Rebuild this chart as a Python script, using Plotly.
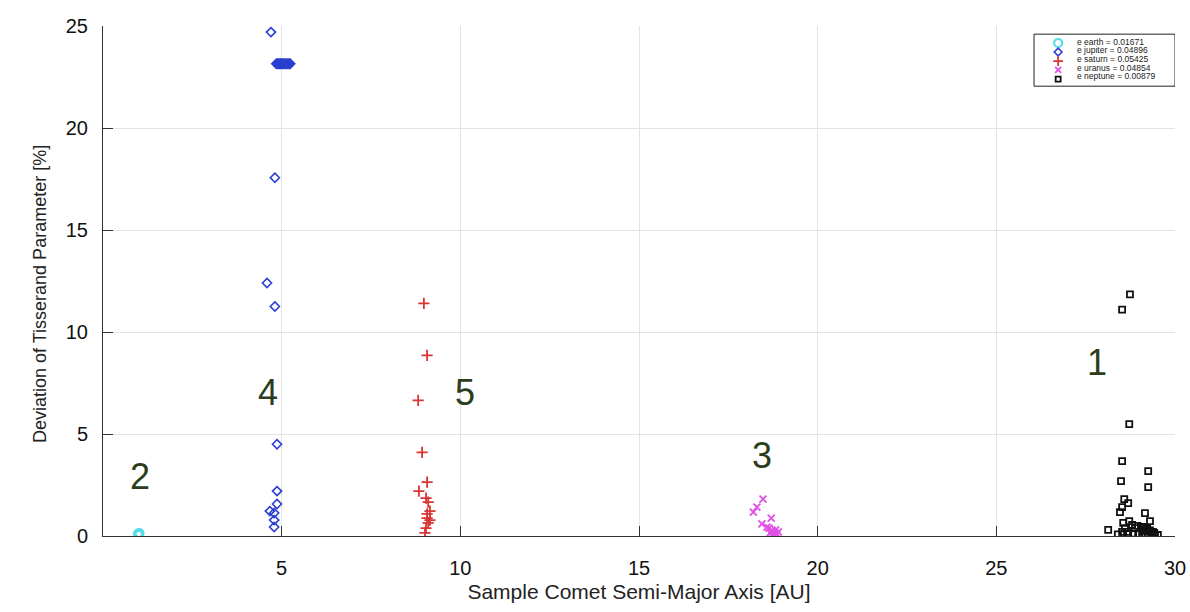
import plotly.graph_objects as go

# ---------------- data ----------------
earth_a = [0.98, 1.00, 1.02, 1.00]
earth_dev = [0.12, 0.08, 0.14, 0.05]

jupiter_a = [4.70, 4.81, 4.59, 4.81, 4.87, 4.87, 4.87, 4.67, 4.79, 4.79, 4.79,
             4.85, 4.88, 4.91, 4.94, 4.97, 5.00, 5.03, 5.06, 5.09, 5.12, 5.15, 5.18, 5.21, 5.24]
jupiter_dev = [24.7, 17.56, 12.4, 11.25, 4.5, 2.2, 1.57, 1.22, 1.13, 0.78, 0.44,
               23.15, 23.15, 23.15, 23.15, 23.15, 23.15, 23.15, 23.15, 23.15, 23.15, 23.15, 23.15, 23.15, 23.15]

saturn_a = [8.98, 9.07, 8.82, 8.93, 9.07, 8.84, 9.04, 9.10, 9.15, 9.07, 9.07, 9.15, 9.10, 9.04, 9.01]
saturn_dev = [11.4, 8.85, 6.65, 4.1, 2.64, 2.2, 1.86, 1.66, 1.22, 1.08, 0.88, 0.78, 0.64, 0.39, 0.15]

uranus_a = [18.47, 18.30, 18.20, 18.70, 18.44, 18.58, 18.64, 18.72, 18.75, 18.67, 18.80, 18.86, 18.75, 18.90, 18.82]
uranus_dev = [1.81, 1.42, 1.17, 0.88, 0.59, 0.44, 0.39, 0.29, 0.20, 0.15, 0.15, 0.10, 0.05, 0.20, 0.30]

neptune_a = [28.74, 28.52, 28.72, 28.52, 29.25, 28.49, 29.25, 28.58, 28.69, 28.52, 28.46, 29.16,
             29.30, 28.72, 28.55, 28.80, 29.10, 28.13, 28.60, 28.52, 28.66, 28.88,
             28.40, 28.55, 28.69, 28.83, 28.97, 29.08, 29.17, 29.25, 29.36, 29.44, 29.52,
             29.10, 29.18, 29.26, 29.34, 29.42, 29.14, 29.22, 29.30, 29.38, 28.95, 29.05]
neptune_dev = [11.84, 11.10, 5.48, 3.67, 3.18, 2.69, 2.40, 1.81, 1.61, 1.42, 1.17, 1.12,
               0.73, 0.73, 0.64, 0.54, 0.44, 0.30, 0.39, 0.20, 0.20, 0.39,
               0.08, 0.08, 0.10, 0.12, 0.10, 0.12, 0.08, 0.10, 0.08, 0.06, 0.05,
               0.25, 0.30, 0.22, 0.18, 0.15, 0.40, 0.35, 0.28, 0.20, 0.50, 0.45]

legend_labels = ["e earth = 0.01671", "e jupiter = 0.04896", "e saturn = 0.05425",
                 "e uranus = 0.04854", "e neptune = 0.00879"]

cluster_labels = ["1", "2", "3", "4", "5"]
cluster_x = [27.82, 1.04, 18.44, 4.62, 10.13]
cluster_y = [8.5, 2.94, 3.96, 7.05, 7.05]

x_ticks = [5, 10, 15, 20, 25, 30]
y_ticks = [0, 5, 10, 15, 20, 25]

# ---------------- styles ----------------
series = [
    (earth_a, earth_dev, "#55dde8", "circle-open", 8, 2.2),
    (jupiter_a, jupiter_dev, "#2b3fcf", "diamond-open", 7, 1.6),
    (saturn_a, saturn_dev, "#d93535", "cross-thin-open", 8, 1.8),
    (uranus_a, uranus_dev, "#e050e6", "x-thin-open", 7, 1.8),
    (neptune_a, neptune_dev, "#111111", "square-open", 6, 1.8),
]

FONT = "Liberation Sans, Arial, sans-serif"

fig = go.Figure()
for (xs, ys, col, sym, sz, lw), name in zip(series, legend_labels):
    fig.add_trace(go.Scatter(
        x=xs, y=ys, mode="markers", name=name, showlegend=False,
        marker=dict(symbol=sym, size=sz, color=col, line=dict(color=col, width=lw)),
        hoverinfo="skip"))

# manual compact legend (markers on an overlay axis 0..1)
leg_mark_x = 0.891
leg_mark_rows = [0.9667, 0.949, 0.931, 0.914, 0.896]
leg_text_x = 0.9067
leg_text_rows = [0.9686, 0.952, 0.9353, 0.9186, 0.902]
for (xs, ys, col, sym, sz, lw), name, my, ty in zip(series, legend_labels, leg_mark_rows, leg_text_rows):
    fig.add_trace(go.Scatter(
        x=[leg_mark_x], y=[my], xaxis="x2", yaxis="y2", mode="markers", showlegend=False,
        marker=dict(symbol=sym, size=sz - 1 if sym != "circle-open" else sz,
                    color=col, line=dict(color=col, width=lw)),
        hoverinfo="skip"))
    fig.add_annotation(x=leg_text_x, y=ty, xref="x2", yref="y2", text=name, showarrow=False,
                       xanchor="left", yanchor="middle",
                       font=dict(family=FONT, size=8.5, color="#222222"))

fig.add_shape(type="rect", xref="x2", yref="y2", x0=0.8685, x1=1.0, y0=0.882, y1=0.984,
              line=dict(color="#222222", width=1), fillcolor="rgba(0,0,0,0)")

for t, cx, cy in zip(cluster_labels, cluster_x, cluster_y):
    fig.add_annotation(x=cx, y=cy, text=t, showarrow=False, xanchor="center", yanchor="middle",
                       font=dict(family=FONT, size=36, color="#2b3d1c"))

# y-axis title
fig.add_annotation(x=-0.0588, y=0.4745, xref="paper", yref="paper",
                   text="Deviation of Tisserand Parameter [%]", showarrow=False, textangle=-90,
                   xanchor="center", yanchor="middle",
                   font=dict(family=FONT, size=18, color="#222222"))

fig.update_layout(
    width=1190, height=612,
    margin=dict(l=103, r=15, t=26, b=76),
    paper_bgcolor="white", plot_bgcolor="white",
    font=dict(family=FONT, color="#111111"),
    xaxis=dict(range=[0, 30], tickvals=x_ticks, ticks="inside", ticklen=10, automargin=False,
               tickcolor="#333333", showline=True, linecolor="#333333", linewidth=1,
               showgrid=True, gridcolor="#e3e3e3", gridwidth=1, zeroline=False,
               tickfont=dict(size=20, family=FONT, color="#111111"), ticklabelstandoff=14,
               title=dict(text="Sample Comet Semi-Major Axis [AU]", standoff=6,
                          font=dict(size=21, family=FONT, color="#222222"))),
    yaxis=dict(range=[0, 25], tickvals=y_ticks, ticks="inside", ticklen=10, automargin=False,
               tickcolor="#333333", showline=True, linecolor="#333333", linewidth=1,
               showgrid=True, gridcolor="#e3e3e3", gridwidth=1, zeroline=False,
               tickfont=dict(size=20, family=FONT, color="#111111"), ticklabelstandoff=10),
    xaxis2=dict(range=[0, 1], overlaying="x", visible=False, fixedrange=True),
    yaxis2=dict(range=[0, 1], overlaying="y", visible=False, fixedrange=True),
)

fig.write_html("out.html")
